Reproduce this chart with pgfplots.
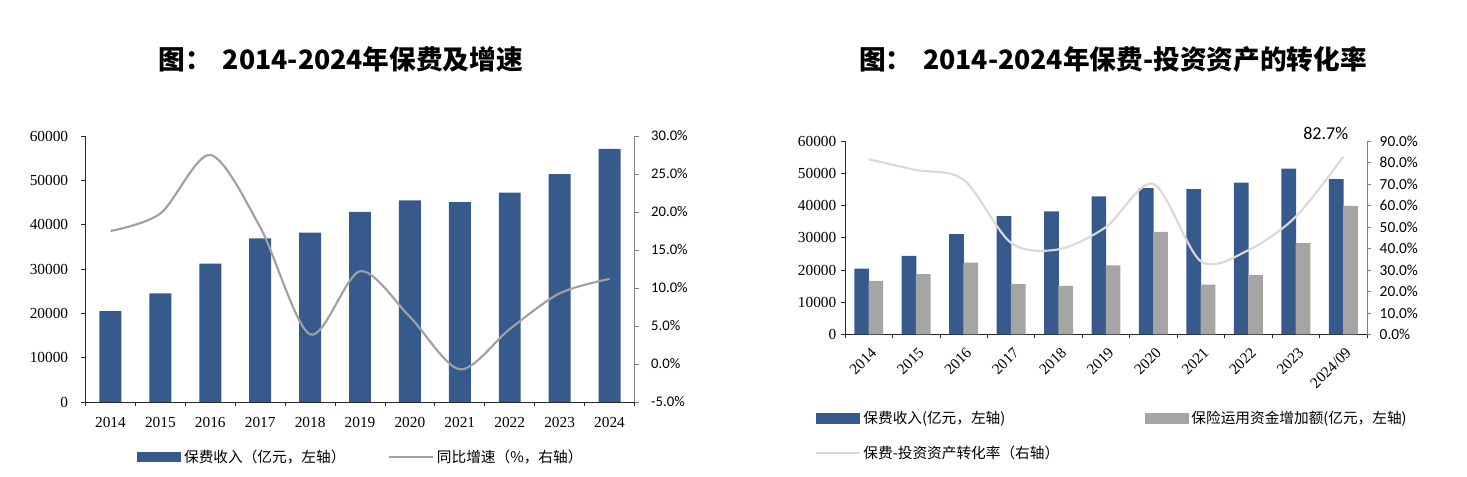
\documentclass[border=0pt]{standalone}
\usepackage{pgfplots}
\pgfplotsset{compat=1.18}
\usepackage{fontspec}
\setmainfont{Liberation Serif}
\newfontfamily\cjk{Noto Sans CJK SC}
\newfontfamily\pct{Carlito}
\definecolor{barblue}{RGB}{55,90,140}
\definecolor{bargray}{RGB}{165,165,165}
\definecolor{linegray}{RGB}{160,160,160}
\definecolor{lightline}{RGB}{217,217,217}
\definecolor{axdark}{RGB}{40,40,40}
\definecolor{axgray}{RGB}{128,128,128}
\pgfplotsset{
  boxlegend/.style={legend image code/.code={\fill[##1] (0pt,-4.1pt) rectangle (33pt,4.1pt);}},
  linelegend/.style={legend image code/.code={\draw[##1] (0pt,0pt) -- (33pt,0pt);}},
  numfont/.style={font=\fontsize{11.5}{13}\selectfont},
}
\begin{document}
\begin{tikzpicture}
\path[use as bounding box] (0,0) rectangle (1100.25pt,357.75pt);
\node[font=\cjk\bfseries\fontsize{20}{24}\selectfont] at (255.75pt,313.5pt) {图：\, 2014-2024年保费及增速};
\node[font=\cjk\bfseries\fontsize{20}{24}\selectfont] at (834.75pt,313.5pt) {图：\, 2014-2024年保费-投资资产的转化率};

% ---------------- left chart ----------------
\begin{axis}[
  at={(64.125pt,56.25pt)}, anchor=south west,
  scale only axis, width=411.75pt, height=199.5pt,
  xmin=-0.5, xmax=10.5, ymin=0, ymax=60000,
  axis x line*=bottom, axis y line*=left,
  axis line style={axdark, line width=0.6pt},
  tick style={axdark, line width=0.6pt},
  tick align=outside, major tick length=3pt,
  xtick={-0.5,0.5,...,10.5}, x tick label as interval,
  xticklabels={2014,2015,2016,2017,2018,2019,2020,2021,2022,2023,2024},
  ytick={0,10000,20000,30000,40000,50000,60000},
  yticklabels={0,10000,20000,30000,40000,50000,60000},
  scaled y ticks=false,
  xticklabel style={numfont, yshift=-5pt},
  yticklabel style={numfont, xshift=-6.5pt},
  ybar, bar width=0.44,
  legend columns=2,
  legend cell align=left,
  legend style={at={(0.0947,-0.2068)}, anchor=west, draw=none, fill=none,
    inner sep=0pt, outer sep=0pt,
    /tikz/every odd column/.append style={column sep=2pt},
    nodes={inner sep=0pt},
    font=\cjk\fontsize{11}{13}\selectfont},
]
\addplot[fill=barblue, draw=none, boxlegend] coordinates {
(0,20500) (1,24500) (2,31200) (3,36900) (4,38200) (5,42900)
(6,45500) (7,45100) (8,47200) (9,51400) (10,57100)};
\addlegendentry{\makebox[153pt][l]{保费收入（亿元，左轴）}}
\addlegendimage{linegray, line width=1.6pt, linelegend}
\addlegendentry{同比增速（\%，右轴）}
\end{axis}
\begin{axis}[
  at={(64.125pt,56.25pt)}, anchor=south west,
  scale only axis, width=411.75pt, height=199.5pt,
  xmin=-0.5, xmax=10.5, ymin=-5, ymax=30,
  axis x line=none, axis y line*=right,
  axis line style={axgray, line width=0.6pt},
  tick style={axgray, line width=0.6pt},
  tick align=outside, major tick length=3pt,
  ytick={-5,0,5,10,15,20,25,30},
  yticklabels={-5.0\%,0.0\%,5.0\%,10.0\%,15.0\%,20.0\%,25.0\%,30.0\%},
  yticklabel style={font=\pct\fontsize{11}{13}\selectfont, xshift=6pt},
]
\addplot[linegray, line width=1.6pt, smooth, tension=0.5] coordinates {
(0,17.5) (1,19.8) (2,27.5) (3,18.0) (4,3.9) (5,12.2)
(6,6.2) (7,-0.7) (8,4.6) (9,9.3) (10,11.2)};
\end{axis}

% ---------------- right chart ----------------
\begin{axis}[
  at={(633.75pt,106.875pt)}, anchor=south west,
  scale only axis, width=391.5pt, height=145.125pt,
  xmin=-0.5, xmax=10.5, ymin=0, ymax=60000,
  axis x line*=bottom, axis y line*=left,
  axis line style={axdark, line width=0.6pt},
  tick style={axdark, line width=0.6pt},
  tick align=outside, major tick length=3pt,
  xtick={-0.5,0.5,...,10.5}, x tick label as interval,
  xticklabels={2014,2015,2016,2017,2018,2019,2020,2021,2022,2023,2024/09},
  ytick={0,10000,20000,30000,40000,50000,60000},
  yticklabels={0,10000,20000,30000,40000,50000,60000},
  scaled y ticks=false,
  xticklabel style={numfont, rotate=45, anchor=north east, yshift=-1.5pt},
  yticklabel style={numfont},
  ybar, bar width=0.31,
  legend columns=2,
  legend cell align=left,
  legend style={at={(-0.0582,-0.5245)}, anchor=west, draw=none, fill=none,
    inner sep=0pt, outer sep=0pt, row sep=15pt,
    /tikz/every odd column/.append style={column sep=2pt},
    nodes={inner sep=0pt},
    font=\cjk\fontsize{11}{13}\selectfont},
]
\addplot[fill=barblue, draw=none, bar shift=-0.15, boxlegend] coordinates {
(0,20400) (1,24400) (2,31100) (3,36700) (4,38200) (5,42800)
(6,45400) (7,45100) (8,47100) (9,51400) (10,48200)};
\addlegendentry{\makebox[211pt][l]{保费收入(亿元，左轴)}}
\addplot[fill=bargray, draw=none, bar shift=0.15, boxlegend] coordinates {
(0,16600) (1,18700) (2,22300) (3,15600) (4,15100) (5,21400)
(6,31800) (7,15500) (8,18400) (9,28300) (10,39900)};
\addlegendentry{保险运用资金增加额(亿元，左轴)}
\addlegendimage{lightline, line width=1.6pt, linelegend}
\addlegendentry{保费-投资资产转化率（右轴）}
\end{axis}
\begin{axis}[
  at={(633.75pt,106.875pt)}, anchor=south west,
  scale only axis, width=391.5pt, height=145.125pt,
  xmin=-0.5, xmax=10.5, ymin=0, ymax=90,
  axis x line=none, axis y line*=right,
  axis line style={axgray, line width=0.6pt},
  tick style={axgray, line width=0.6pt},
  tick align=outside, major tick length=3pt,
  ytick={0,10,20,30,40,50,60,70,80,90},
  yticklabels={0.0\%,10.0\%,20.0\%,30.0\%,40.0\%,50.0\%,60.0\%,70.0\%,80.0\%,90.0\%},
  yticklabel style={font=\pct\fontsize{11.5}{13}\selectfont, xshift=3pt},
  clip=false,
]
\addplot[lightline, line width=1.6pt, smooth, tension=0.5] coordinates {
(0,81.5) (1,76.5) (2,72.0) (3,42.6) (4,39.6) (5,50.0)
(6,70.0) (7,34.0) (8,39.2) (9,54.8) (10,82.7)};
\node[font=\pct\fontsize{13.5}{15}\selectfont] at (axis cs:9.63,93.3) {82.7\%};
\end{axis}
\end{tikzpicture}
\end{document}
